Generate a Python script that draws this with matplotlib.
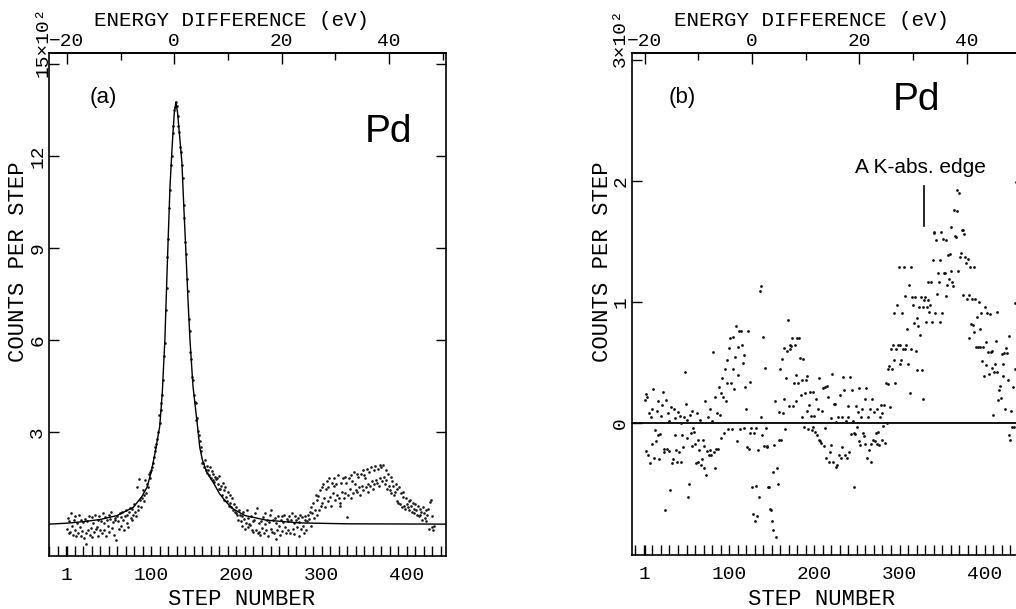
import matplotlib.pyplot as plt
from matplotlib.ticker import FixedLocator, MultipleLocator

# DATA (counts per step, plotted in units of 100)
# panel (a): measured spectrum, one value per step starting at step 1
counts_a = [
    -15, 20, -30, 10, -25, 35, -5, -35, 15, -20, 25, -40, 5, -28, 30, -10, -38, 12, -22, 8,
    -45, 18, -30, -66, 10, -20, 28, -35, -12, 22, -42, 5, -25, 30, -15, -8, -38, 15, 25, -20,
    10, -30, 35, -18, 5, 22, -40, 12, -5, 30, -25, 18, 40, -12, 8, -35, 20, 15, -52, 28,
    10, -15, 35, 22, -5, 40, 15, -20, 28, 45, 5, 30, -10, 38, 52, 20, 12, 48, 30, 65,
    40, 25, 121, 60, 45, 146, 80, 55, 84, 110, 75, 95, 143, 100, 130, 120, 165, 150, 170, 175,
    185, 200, 218, 238, 252, 262, 278, 300, 355, 330, 372, 395, 420, 470, 548, 590, 700, 770, 870, 930,
    1030, 1090, 1170, 1200, 1275, 1300, 1350, 1360, 1377, 1365, 1330, 1300, 1280, 1230, 1215, 1170, 1130, 1040, 1000, 920,
    880, 800, 760, 670, 630, 560, 540, 480, 470, 420, 400, 395, 340, 345, 305, 290, 270, 250, 240, 200,
    199, 185, 210, 178, 190, 168, 177, 160, 185, 150, 172, 145, 162, 138, 155, 148, 150, 130, 158, 115,
    115, 125, 95, 135, 110, 80, 120, 90, 75, 105, 60, 95, 70, 55, 85, 46, 65, 40, 35, 55,
    30, 15, 45, 30, 10, 25, -5, 40, 18, -15, 5, 46, -10, 20, 0, -2, 28, -18, 10, -25,
    15, 35, -20, 54, -30, 5, -25, -35, 10, -12, 22, -28, 35, 0, -20, 15, -38, 8, 30, -15,
    46, -25, 12, -30, 20, -47, 5, -18, 25, -5, -35, 15, 28, -22, 8, 30, -10, -30, 18, 10,
    -20, 25, -28, 12, 35, -15, 5, -32, 28, 15, -10, 20, -38, 8, 30, -15, 22, -5, -30, 15,
    25, -20, 10, 30, 18, 40, -5, 56, 35, 70, 20, 45, 95, 30, 80, 91, 45, 110, 60, 120,
    70, 130, 85, 55, 115, 140, 75, 120, 150, 90, 60, 135, 100, 150, 125, 80, 130, 95, 160, 85,
    70, 60, 135, 105, 150, 85, 155, 100, 135, 23, 95, 150, 115, 160, 85, 140, 100, 170, 130, 110,
    165, 105, 155, 120, 95, 165, 125, 175, 110, 160, 150, 120, 180, 130, 105, 170, 125, 185, 140, 115,
    175, 130, 190, 145, 135, 180, 125, 194, 150, 185, 140, 192, 155, 130, 175, 145, 115, 165, 125, 110,
    155, 100, 140, 125, 95, 105, 130, 75, 115, 70, 120, 65, 100, 55, 90, 105, 60, 50, 85, 67,
    55, 75, 45, 80, 60, 40, 70, 50, 35, 65, 45, 30, 60, 25, 50, 29, 40, 15, 55, 35,
    20, 45, 10, 30, 50, -15, 72, 78, 25, -9, -20, -5,
]
# panel (a): fitted line
fit_steps = [-20, 1, 20, 40, 60, 79, 89, 95, 100, 105, 110, 113, 116, 119.5, 122, 124.5, 127, 129, 131, 133.5,
             136, 138, 140.5, 143, 145.5, 149, 153.5, 157, 160, 165, 173, 180, 187, 196, 210, 235, 274, 330, 446]
fit_counts = [0, 3, 8, 15, 28, 55, 90, 120, 170, 240, 320, 430, 600, 900, 1100, 1230, 1340, 1377, 1340, 1260,
              1180, 1050, 900, 740, 600, 450, 340, 250, 210, 170, 135, 100, 75, 50, 28, 13, 4, 1, 0]

# panel (b): difference spectrum, one value per step starting at step 1
counts_b = [
    19, -23, 24, 22, -26, 8, -33, 5, -17, 12, 28, -29, -6, -15, 10, -10, 18, -30, -9, 6,
    15, 26, -21, -24, -72, 19, -21, 8, -23, 2, -55, 13, -33, -30, 12, -10, 4, -22, -32, 9,
    -24, 6, 0, -32, -10, -20, 5, 42, 16, -12, 3, -61, -50, 7, -8, -19, 10, -4, -7, -17,
    -33, 8, -32, -14, -22, 3, -35, -30, -14, -37, -19, 18, -43, -23, 5, -26, -22, 12, -26, 2,
    59, -24, 22, -37, -21, 8, -21, 30, 7, -12, 25, 37, 22, -8, 45, 18, 52, 33, -5, 62,
    70, 33, -5, 45, 71, 28, 55, 80, -15, 63, 40, 76, -5, 76, 65, 50, -4, 56, 30, 12,
    -20, 76, -21, 34, -8, -4, -53, -75, -8, -81, -52, -4, -77, -22, -61, 109, 5, 113, -10, 71,
    -19, 46, -4, -19, -20, -53, -53, -71, -72, -81, -88, -40, -18, 18, -94, -37, -50, 9, -14, 45,
    -14, 53, 8, 20, 62, -5, 37, 60, 85, 14, 61, 65, 64, 70, 14, 33, 65, 18, 40, 70,
    33, 70, 54, 23, 5, 36, 53, -3, 25, 36, 10, 39, -5, 15, 26, 6, -6, 26, -3, 6,
    -7, 20, -10, 12, -14, 37, -15, -16, 10, 29, -19, -4, 30, -29, 31, 22, -32, -24, 4, -18,
    41, -32, 16, 16, -36, 1, -35, 5, -26, 23, -29, 5, -20, 38, 27, -26, 2, -29, 14, 5,
    -24, 38, -9, 27, 2, -53, -8, -9, 14, -3, 9, -15, 29, -18, 5, 12, -8, -11, -17, 20,
    29, -29, 5, -22, 12, -17, -32, 20, -14, 9, -15, -8, -17, 12, -7, -18, 5, 15, -14, 8,
    -2, 15, -16, 33, 0, 45, 32, 47, 13, 61, 45, 65, 91, 52, 33, 61, 98, 65, 129, 49,
    65, 52, 91, 61, 129, 61, 105, 65, 78, 49, 114, 25, 129, 61, 104, 98, 83, 104, 60, 87,
    44, 80, 96, 73, 104, 44, 96, 20, 102, 104, 84, 96, 117, 102, 92, 98, 117, 84, 135, 157,
    158, 91, 151, 107, 124, 117, 84, 135, 158, 91, 152, 124, 124, 105, 151, 114, 139, 119, 140, 126,
    162, 117, 113, 176, 155, 154, 193, 175, 126, 190, 137, 141, 160, 106, 160, 156, 137, 132, 103, 136,
    106, 70, 129, 82, 103, 81, 129, 75, 103, 63, 88, 63, 100, 63, 78, 91, 51, 63, 39, 96,
    48, 67, 91, 59, 41, 90, 59, 46, 60, 7, 42, 49, 68, 42, 92, 19, 27, 31, 21, 57,
    39, 49, 58, 12, 62, 58, 36, 72, -10, -14, 10, -3, 30, -3, 45, 99, 199, 120, 150, 170,
]
# panel (b): marker for the absorption edge
edge_step = 329
edge_counts = [163, 196]

steps_a = list(range(1, len(counts_a) + 1))
steps_b = list(range(1, len(counts_b) + 1))
y_a = [c / 100 for c in counts_a]
y_b = [c / 100 for c in counts_b]
fit_y = [c / 100 for c in fit_counts]

# step number -> energy difference (eV)
def energy(s):
    return (s - 127) * 20 / 126

def step(e):
    return e * 126 / 20 + 127


plt.rcParams['font.family'] = 'Liberation Mono'
sans = ['Liberation Sans', 'DejaVu Sans']
W, H = 1016, 609
fig = plt.figure(figsize=(W / 100, H / 100), dpi=100)

def px(x, y):
    return x / W, 1 - y / H

ax_a = fig.add_axes([49 / W, 1 - 556 / H, 397 / W, 503 / H])
ax_b = fig.add_axes([632 / W, 1 - 555 / H, 397 / W, 502 / H])


def setup(ax, xlim, ylim, yticks, ylabels):
    ax.set_xlim(xlim)
    ax.set_ylim(ylim)
    for sp in ax.spines.values():
        sp.set_linewidth(1.2)
    ax.xaxis.set_major_locator(FixedLocator([1, 100, 200, 300, 400]))
    ax.xaxis.set_minor_locator(MultipleLocator(10))
    ax.tick_params(axis='x', which='both', direction='in', length=7, width=1,
                   labelsize=14, pad=8, top=False)
    ax.set_yticks(yticks)
    ax.set_yticklabels(ylabels)
    ax.tick_params(axis='y', direction='in', length=7, width=1, right=True,
                   labelsize=14, pad=2, labelrotation=90)
    for lab in ax.get_yticklabels():
        lab.set_va('center')
    sec = ax.secondary_xaxis('top', functions=(energy, step))
    sec.xaxis.set_major_locator(FixedLocator([-20, 0, 20, 40]))
    sec.xaxis.set_minor_locator(FixedLocator([-10, 10, 30, 50]))
    sec.tick_params(which='major', direction='in', length=8, width=1, labelsize=14, pad=2)
    sec.tick_params(which='minor', direction='in', length=5, width=1)
    sec.spines['top'].set_linewidth(1.2)


setup(ax_a, (-20, 446), (-1.04, 15.37), [3, 6, 9, 12, 15], ['3', '6', '9', '12', ''])
setup(ax_b, (-14, 452), (-1.09, 3.06), [0, 1, 2, 3], ['0', '1', '2', ''])

# panel (a)
ax_a.plot(steps_a, y_a, ls='none', marker='o', ms=1.9, mew=0, color='#1a1a1a')
ax_a.plot(fit_steps, fit_y, color='k', lw=1.0)

# panel (b)
ax_b.axhline(0, color='k', lw=1.3)
ax_b.plot(steps_b, y_b, ls='none', marker='o', ms=2.0, mew=0, color='#111111')
ax_b.plot([edge_step, edge_step], [c / 100 for c in edge_counts], color='k', lw=1.2)
ax_b.text(324, 2.11, 'A K-abs. edge', family=sans, fontsize=15, ha='center', va='center')

# axis titles and labels
for xc in (232, 811):
    fig.text(*px(xc, 21), 'ENERGY DIFFERENCE (eV)', fontsize=15, ha='center', va='center')
for xc in (242, 822):
    fig.text(*px(xc, 605), 'STEP NUMBER', fontsize=16, ha='center', va='baseline')
for xc in (19, 603):
    fig.text(*px(xc, 262), 'COUNTS PER STEP', fontsize=16, rotation=90, ha='center', va='center')
fig.text(*px(43, 77), '15×10²', fontsize=14, rotation=90, rotation_mode='anchor', ha='left', va='center')
fig.text(*px(620, 67), '3×10²', fontsize=14, rotation=90, rotation_mode='anchor', ha='left', va='center')

fig.text(*px(103, 97), '(a)', family=sans, fontsize=16, ha='center', va='center')
fig.text(*px(682, 97), '(b)', family=sans, fontsize=16, ha='center', va='center')
fig.text(*px(388, 132), 'Pd', family=sans, fontsize=28, ha='center', va='center')
fig.text(*px(917, 100), 'Pd', family=sans, fontsize=28, ha='center', va='center')

fig.savefig('out.png', dpi=100)
